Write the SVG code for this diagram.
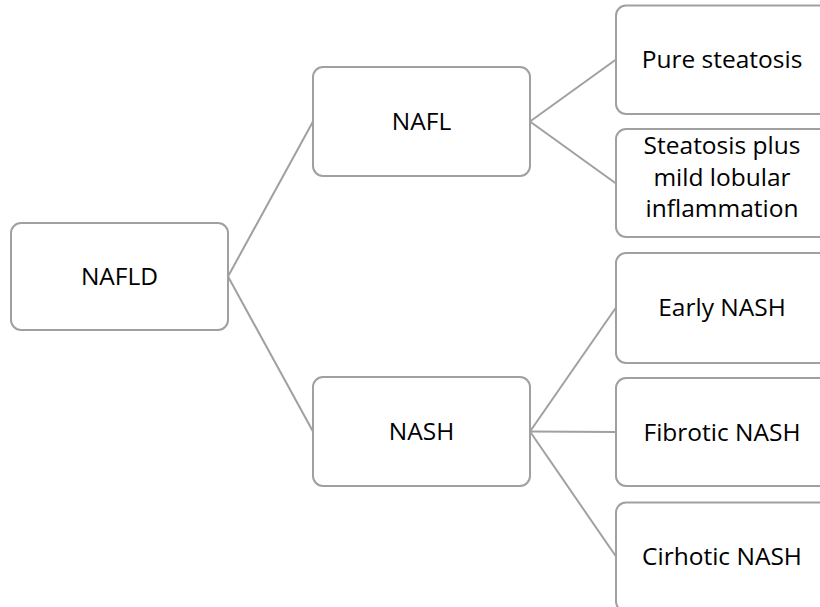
<svg xmlns="http://www.w3.org/2000/svg" width="820" height="607" viewBox="0 0 820 607">
<style>
.box{fill:#ffffff;stroke:#a0a0a0;stroke-width:2}
.lbl{font-family:"Open Sans","Liberation Sans",sans-serif;font-size:24.5px;fill:#000000;text-anchor:middle}
.conn{stroke:#a0a0a0;stroke-width:2;fill:none}
</style>
<rect width="820" height="607" fill="#ffffff"/>
<g id="connectors">
<line class="conn" x1="228" y1="276.5" x2="313" y2="121.5"/>
<line class="conn" x1="228" y1="276.5" x2="313" y2="431.5"/>
<line class="conn" x1="530" y1="121.5" x2="616" y2="59.5"/>
<line class="conn" x1="530" y1="121.5" x2="616" y2="183.5"/>
<line class="conn" x1="530" y1="431.5" x2="616" y2="307.5"/>
<line class="conn" x1="530" y1="431.5" x2="616" y2="432"/>
<line class="conn" x1="530" y1="431.5" x2="616" y2="556.5"/>
</g>
<g id="nafld">
<rect class="box" x="11" y="223" width="217" height="107" rx="10"/>
<text class="lbl" x="119.5" y="285">NAFLD</text>
</g>
<g id="nafl">
<rect class="box" x="313" y="67" width="217" height="109" rx="10"/>
<text class="lbl" x="421.5" y="130">NAFL</text>
</g>
<g id="nash">
<rect class="box" x="313" y="377" width="217" height="109" rx="10"/>
<text class="lbl" x="421.5" y="440">NASH</text>
</g>
<g id="pure-steatosis">
<rect class="box" x="616" y="5.5" width="217" height="108.5" rx="10"/>
<text class="lbl" x="722" y="68">Pure steatosis</text>
</g>
<g id="steatosis-plus">
<rect class="box" x="616" y="129" width="217" height="108" rx="10"/>
<text class="lbl" x="722" y="154">Steatosis plus</text>
<text class="lbl" x="722" y="185.5">mild lobular</text>
<text class="lbl" x="722" y="217">inflammation</text>
</g>
<g id="early-nash">
<rect class="box" x="616" y="253" width="217" height="110" rx="10"/>
<text class="lbl" x="722" y="316">Early NASH</text>
</g>
<g id="fibrotic-nash">
<rect class="box" x="616" y="378" width="217" height="108" rx="10"/>
<text class="lbl" x="722" y="441">Fibrotic NASH</text>
</g>
<g id="cirhotic-nash">
<rect class="box" x="616" y="502.5" width="217" height="109" rx="10"/>
<text class="lbl" x="722" y="565">Cirhotic NASH</text>
</g>
</svg>
